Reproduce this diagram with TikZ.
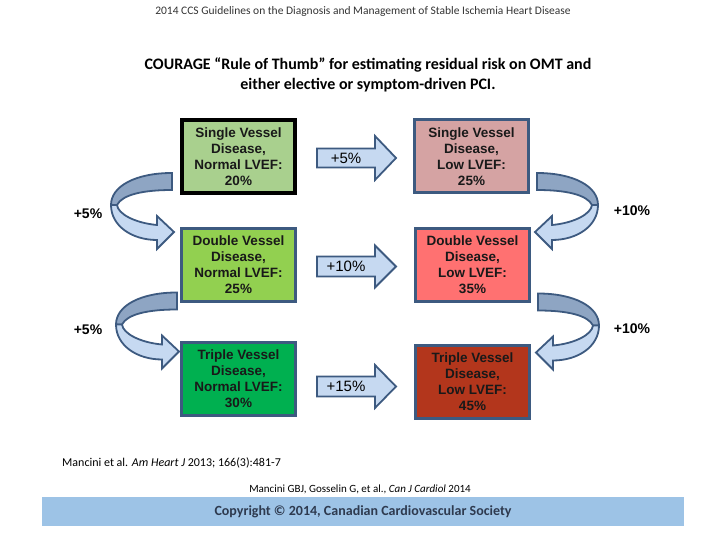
\documentclass[tikz,border=0pt]{standalone}
\usepackage{fontspec}
\setmainfont{Carlito}
\newfontfamily\arialfont{Liberation Sans}
\usepackage{xcolor}
\usepackage{tikz}
\usetikzlibrary{positioning, calc}
\definecolor{ccscolor0}{HTML}{A9D08E}
\definecolor{ccscolor1}{HTML}{92D050}
\definecolor{ccscolor2}{HTML}{00B050}
\definecolor{ccscolor3}{HTML}{D5A3A3}
\definecolor{ccscolor4}{HTML}{FF7171}
\definecolor{ccscolor5}{HTML}{B3361C}
\definecolor{ccscolor6}{HTML}{3D5A80}
\definecolor{ccscolor7}{HTML}{C6D9F1}
\definecolor{ccscolor8}{HTML}{8EA5C3}
\definecolor{ccscolor9}{HTML}{9DC3E6}
\definecolor{ccscolor10}{HTML}{2E3A4F}
\tikzset{
  risk_box/.style={draw=ccscolor6, line width=3pt, minimum width=114pt, minimum height=73pt, inner sep=0pt, align=center, text=black!90, font=\arialfont\bfseries\fontsize{13.5}{16}\selectfont},
  risk_box_ref/.style={risk_box, draw=black, line width=4pt, minimum width=113pt},
  step_arrow/.style={draw=ccscolor6, fill=ccscolor7, line width=1.8pt, line join=miter},
  step_label/.style={font=\arialfont\fontsize{15}{17}\selectfont, inner sep=0pt},
  side_label/.style={font=\arialfont\bfseries\fontsize{14}{16}\selectfont, inner sep=0pt},
  cite_text/.style={font=\fontsize{12}{14}\selectfont, inner sep=0pt},
  bend_arrow/.pic={
    \draw[step_arrow, fill=ccscolor8] (0,0) .. controls (-36,0) and (-61,-13) .. (-61,-32) -- (-55,-32) .. controls (-50,-22) and (-30,-17) .. (0,-17) -- cycle;
    \draw[step_arrow] (-61,-32) .. controls (-61,-53) and (-40,-67) .. (-15,-67) -- (-15,-76) -- (2,-59) -- (-15,-43) -- (-15,-52) .. controls (-37,-50) and (-54,-41) .. (-55,-32) -- cycle;
  }
}

\begin{document}
\begin{tikzpicture}[x=1pt, y=1pt]
\useasboundingbox (0,0) rectangle (720,540);
\node[font=\fontsize{11.5}{13}\selectfont, text=black!80] (header_node) at (363,528) {2014 CCS Guidelines on the Diagnosis and Management of Stable Ischemia Heart Disease};
\node[font=\bfseries\fontsize{16}{20.5}\selectfont, align=center] (title_node) at (368,465) {COURAGE “Rule of Thumb” for estimating residual risk on OMT and\\either elective or symptom-driven PCI.};
% risk boxes
\node[risk_box_ref, fill=ccscolor0] (sv_normal) at (238.5,383.5) {Single Vessel\\Disease,\\Normal LVEF:\\20\%};
\node[risk_box, fill=ccscolor1, below=32pt of sv_normal] (dv_normal) {Double Vessel\\Disease,\\Normal LVEF:\\25\%};
\node[risk_box, fill=ccscolor2, below=38pt of dv_normal] (tv_normal) {Triple Vessel\\Disease,\\Normal LVEF:\\30\%};
\node[risk_box, fill=ccscolor3, right=116pt of sv_normal] (sv_low) {Single Vessel\\Disease,\\Low LVEF:\\25\%};
\node[risk_box, fill=ccscolor4, right=117pt of dv_normal] (dv_low) {Double Vessel\\Disease,\\Low LVEF:\\35\%};
\node[risk_box, fill=ccscolor5, right=117pt of tv_normal, yshift=-3pt] (tv_low) {Triple Vessel\\Disease,\\Low LVEF:\\45\%};
% normal -> low
\draw[step_arrow] ($(sv_normal.east)+(20,8)$) -- ++(58,0) -- ++(0,12.5) -- ++(21,-22) -- ++(-21,-22) -- ++(0,12.5) -- ++(-58,0) -- cycle;
\node[step_label] (step_label_1) at ($(sv_normal.east)+(49,-1.5)$) {+5\%};
\draw[step_arrow] ($(dv_normal.east)+(20,8.5)$) -- ++(58,0) -- ++(0,11) -- ++(21,-21) -- ++(-21,-21) -- ++(0,11) -- ++(-58,0) -- cycle;
\node[step_label] (step_label_2) at ($(dv_normal.east)+(49,-1.5)$) {+10\%};
\draw[step_arrow] ($(tv_normal.east)+(20,2.5)$) -- ++(58,0) -- ++(0,11.5) -- ++(21,-21.5) -- ++(-21,-21.5) -- ++(0,11.5) -- ++(-58,0) -- cycle;
\node[step_label] (step_label_3) at ($(tv_normal.east)+(49,-7)$) {+15\%};
% vessel steps
\pic (bend_left_1) at ($(sv_normal.west)+(-8,-16.5)$) {bend_arrow};
\pic (bend_left_2) at ($(dv_normal.west)+(-3,-27.5)$) {bend_arrow};
\pic[xscale=-1] (bend_right_1) at ($(sv_low.east)+(7,-16.5)$) {bend_arrow};
\pic[xscale=-1] (bend_right_2) at ($(dv_low.east)+(7,-28.5)$) {bend_arrow};
\node[side_label] (gain_left_1) at (88,326) {+5\%};
\node[side_label] (gain_left_2) at (88,210) {+5\%};
\node[side_label] (gain_right_1) at (632,329) {+10\%};
\node[side_label] (gain_right_2) at (632,211) {+10\%};
% sources
\node[cite_text, anchor=west] (cite_node_1) at (62,77) {Mancini et al. \textit{Am Heart J} 2013; 166(3):481-7};
\node[cite_text, font=\fontsize{11}{13}\selectfont] (cite_node_2) at (360,51) {Mancini GBJ, Gosselin G, et al., \textit{Can J Cardiol} 2014};
\node[fill=ccscolor9, minimum width=642pt, minimum height=29pt, inner sep=0pt, text=ccscolor10, font=\bfseries\fontsize{14}{16}\selectfont] (copyright_bar) at (363,28.5) {Copyright © 2014, Canadian Cardiovascular Society};
\end{tikzpicture}
\end{document}
